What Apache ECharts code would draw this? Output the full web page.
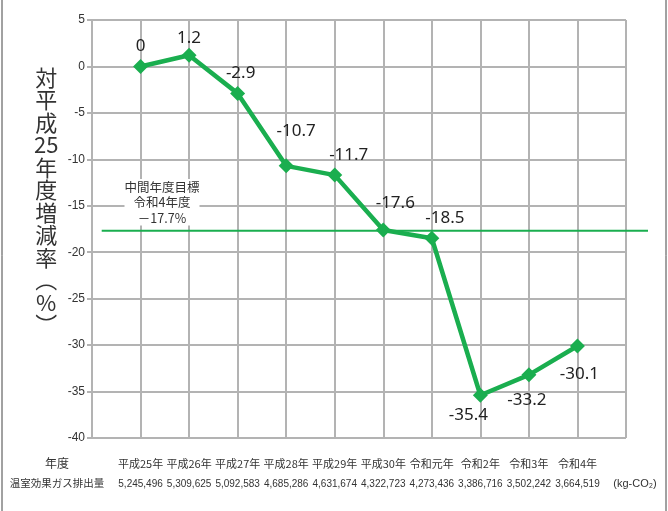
<!DOCTYPE html>
<html>
<head>
<meta charset="utf-8">
<script src="https://cdn.jsdelivr.net/npm/echarts@6/dist/echarts.min.js"></script>
<style>
  html, body { margin: 0; padding: 0; background: #fff; }
  #main { width: 668px; height: 511px; }
</style>
</head>
<body>
<div id="main"></div>
<script>
// 年度
var years = ['平成25年', '平成26年', '平成27年', '平成28年', '平成29年', '平成30年', '令和元年', '令和2年', '令和3年', '令和4年'];
// 対平成25年度増減率（%）
var rates = [0, 1.2, -2.9, -10.7, -11.7, -17.6, -18.5, -35.4, -33.2, -30.1];
// 温室効果ガス排出量 (kg-CO2)
var emissions = ['5,245,496', '5,309,625', '5,092,583', '4,685,286', '4,631,674', '4,322,723', '4,273,436', '3,386,716', '3,502,242', '3,664,519'];
// 中間年度目標
var target = -17.7;
var yTicks = { min: -40, max: 5, step: 5 };

// ラベル位置の微調整
var labelPlace = [
  ['top', [0, 0]], ['top', [0, 3]], ['top', [3, 0]], ['top', [10, -15]], ['top', [14, 0]],
  ['top', [12, -7]], ['top', [13, 0]], ['bottom', [-12, 0]], ['bottom', [-2, 5]], ['bottom', [2, 8]]
];

var myChart = echarts.init(document.getElementById('main'));

var lineData = [];
for (var i = 0; i < rates.length; i++) {
  lineData.push({
    value: [i + 1, rates[i]],
    label: { position: labelPlace[i][0], offset: labelPlace[i][1] }
  });
}

var green = '#1aae4f';
var gray = '#b3b3b3';
var option = {
  backgroundColor: '#fff',
  animation: false,
  grid: [
    { left: 92, right: 42, top: 20, bottom: 73 },
    // 目標線用（プロット右外まで伸びる）
    { left: 92, right: 20, top: 20, bottom: 73 }
  ],
  xAxis: [{
    type: 'value',
    gridIndex: 0,
    min: 0,
    max: 11,
    interval: 1,
    axisLine: { show: true, lineStyle: { color: gray, width: 2 } },
    axisTick: { show: false },
    splitLine: { show: true, lineStyle: { color: gray, width: 2 } },
    axisLabel: {
      margin: 16,
      color: '#333',
      formatter: function (v) {
        var i = Math.round(v) - 1;
        if (i < 0 || i >= years.length) return '';
        return '{y|' + years[i] + '}\n{e|' + emissions[i] + '}';
      },
      rich: {
        y: { fontSize: 11, lineHeight: 20, color: '#333', fontFamily: 'Noto Sans CJK JP' },
        e: { fontSize: 10, lineHeight: 20, color: '#333', fontFamily: 'Liberation Sans' }
      }
    }
  }, {
    type: 'value',
    gridIndex: 1,
    min: 0,
    max: 11.46,
    show: false
  }],
  yAxis: [{
    type: 'value',
    gridIndex: 0,
    min: yTicks.min,
    max: yTicks.max,
    interval: yTicks.step,
    axisLine: { show: true, lineStyle: { color: gray, width: 2 } },
    axisTick: { show: true, length: 5, lineStyle: { color: gray, width: 2 } },
    splitLine: { show: true, lineStyle: { color: gray, width: 2 } },
    axisLabel: { color: '#333', fontSize: 12, margin: 7, fontFamily: 'Liberation Sans' }
  }, {
    type: 'value',
    gridIndex: 1,
    min: yTicks.min,
    max: yTicks.max,
    show: false
  }],
  series: [{
    type: 'line',
    xAxisIndex: 1,
    yAxisIndex: 1,
    data: [[0.2, target], [11.46, target]],
    symbol: 'none',
    lineStyle: { color: green, width: 2 },
    z: 1
  }, {
    type: 'line',
    data: lineData,
    symbol: 'diamond',
    symbolSize: 15,
    itemStyle: { color: green },
    lineStyle: { color: green, width: 4.5 },
    label: {
      show: true,
      color: '#222',
      fontSize: 17,
      fontFamily: 'Noto Sans',
      distance: 4
    },
    z: 3
  }],
  graphic: [{
    type: 'rect',
    shape: { x: 2, y: -5, width: 664, height: 530 },
    style: { fill: 'none', stroke: '#444', lineWidth: 1 },
    silent: true
  }, {
    type: 'text',
    left: 34,
    top: 66,
    style: {
      text: ['対', '平', '成', '25', '年', '度', '増', '減', '率', '︵', '%', '︶'].join('\n'),
      fontSize: 22,
      lineHeight: 22.5,
      textAlign: 'center',
      fill: '#333',
      fontFamily: 'Noto Sans CJK JP'
    }
  }, {
    type: 'text',
    x: 162,
    y: 179,
    style: {
      text: '中間年度目標\n令和4年度\n－17.7%',
      fontSize: 12.5,
      lineHeight: 15.5,
      textAlign: 'center',
      fill: '#333',
      backgroundColor: '#fff',
      fontFamily: 'Noto Sans CJK JP'
    },
    z: 10
  }, {
    type: 'text',
    x: 57,
    y: 457,
    style: { text: '年度', fontSize: 12, textAlign: 'center', fill: '#333', fontFamily: 'Noto Sans CJK JP' }
  }, {
    type: 'text',
    x: 57,
    y: 478,
    style: { text: '温室効果ガス排出量', fontSize: 10.5, textAlign: 'center', fill: '#333', fontFamily: 'Noto Sans CJK JP' }
  }, {
    type: 'text',
    x: 635,
    y: 478,
    style: { text: '(kg-CO₂)', fontSize: 11, textAlign: 'center', fill: '#333', fontFamily: 'Liberation Sans' }
  }]
};
myChart.setOption(option);
</script>
</body>
</html>
